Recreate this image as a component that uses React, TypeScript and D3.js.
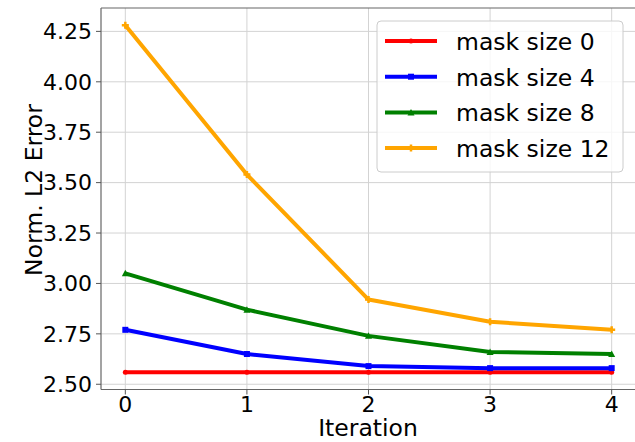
import React from 'react';
import * as d3 from 'd3';

const iterations = [0, 1, 2, 3, 4];
const seriesNames = ['mask size 0', 'mask size 4', 'mask size 8', 'mask size 12'];
const seriesColors = ['#ff0000', '#0000ff', '#008000', '#ffa500'];
const seriesMarkers = ['circle', 'square', 'triangle', 'plus'];
const mask0 = [2.56, 2.56, 2.56, 2.56, 2.56];
const mask4 = [2.77, 2.65, 2.59, 2.58, 2.58];
const mask8 = [3.05, 2.87, 2.74, 2.66, 2.65];
const mask12 = [4.28, 3.54, 2.92, 2.81, 2.77];
const yTicks = [2.5, 2.75, 3.0, 3.25, 3.5, 3.75, 4.0, 4.25];

const width = 635;
const height = 442;
const left = 101;
const right = 636;
const top = 8;
const bottom = 389.5;
const font = 'DejaVu Sans, sans-serif';
const tickSize = 22;
const labelSize = 23.5;

function marker(kind, cx, cy, color) {
	if (kind === 'circle') return <circle cx={cx} cy={cy} r={2.5} fill={color} />;
	if (kind === 'square') return <rect x={cx - 3} y={cy - 3} width={6} height={6} fill={color} />;
	if (kind === 'triangle')
		return <path d={`M${cx},${cy - 3.5}L${cx + 3.5},${cy + 3}L${cx - 3.5},${cy + 3}Z`} fill={color} />;
	return <path d={`M${cx - 3.5},${cy}H${cx + 3.5}M${cx},${cy - 3.5}V${cy + 3.5}`} stroke={color} strokeWidth={2.5} />;
}

export default function App() {
	const series = [mask0, mask4, mask8, mask12];
	const x = d3.scaleLinear().domain([-0.2, 4.2]).range([left, right]);
	const y = d3.scaleLinear().domain([2.474, 4.366]).range([bottom, top]);
	const line = d3
		.line<number>()
		.x((d, i) => x(iterations[i]))
		.y((d) => y(d));

	const legendX = 377;
	const legendY = 21;
	const rowH = 35.7;

	return (
		<svg
			width={width}
			height={height}
			style={{ position: 'absolute', left: 0, top: 0, background: '#fff' }}
			fontFamily={font}
		>
			{/* grid */}
			{iterations.map((t) => (
				<line key={'gx' + t} x1={x(t)} x2={x(t)} y1={top} y2={bottom} stroke="#d3d3d3" strokeWidth={1} />
			))}
			{yTicks.map((t) => (
				<line key={'gy' + t} x1={left} x2={right} y1={y(t)} y2={y(t)} stroke="#d3d3d3" strokeWidth={1} />
			))}

			{/* lines */}
			{series.map((s, k) => (
				<g key={'s' + k}>
					<path d={line(s) || ''} fill="none" stroke={seriesColors[k]} strokeWidth={4} strokeLinejoin="round" />
					{s.map((v, i) => (
						<g key={i}>{marker(seriesMarkers[k], x(iterations[i]), y(v), seriesColors[k])}</g>
					))}
				</g>
			))}

			{/* spines */}
			<line x1={left} x2={right} y1={top} y2={top} stroke="#666" strokeWidth={1.2} />
			<line x1={left} x2={right} y1={bottom} y2={bottom} stroke="#666" strokeWidth={1.2} />
			<line x1={left} x2={left} y1={top} y2={bottom} stroke="#666" strokeWidth={1.2} />

			{/* x ticks */}
			{iterations.map((t) => (
				<g key={'xt' + t}>
					<line x1={x(t)} x2={x(t)} y1={bottom} y2={bottom + 5} stroke="#555" />
					<text x={x(t)} y={bottom + 22.5} textAnchor="middle" fontSize={tickSize} fill="#000">
						{t}
					</text>
				</g>
			))}
			{/* y ticks */}
			{yTicks.map((t) => (
				<g key={'yt' + t}>
					<line x1={left - 5} x2={left} y1={y(t)} y2={y(t)} stroke="#555" />
					<text x={left - 9} y={y(t) + 7.8} textAnchor="end" fontSize={tickSize} fill="#000">
						{t.toFixed(2)}
					</text>
				</g>
			))}

			{/* axis labels */}
			<text x={368} y={436} textAnchor="middle" fontSize={labelSize} fill="#000">
				Iteration
			</text>
			<text
				transform={`translate(42,190) rotate(-90)`}
				textAnchor="middle"
				fontSize={labelSize}
				fill="#000"
			>
				Norm. L2 Error
			</text>

			{/* legend */}
			<rect
				x={legendX}
				y={legendY}
				width={246}
				height={151}
				rx={4}
				fill="#fff"
				fillOpacity={0.8}
				stroke="#ccc"
				strokeWidth={1}
			/>
			{seriesNames.map((name, k) => {
				const cy = legendY + 20 + k * rowH;
				return (
					<g key={'lg' + k}>
						<line x1={385} x2={437} y1={cy} y2={cy} stroke={seriesColors[k]} strokeWidth={4} />
						{marker(seriesMarkers[k], 411, cy, seriesColors[k])}
						<text x={456} y={cy + 9} fontSize={labelSize} fill="#000">
							{name}
						</text>
					</g>
				);
			})}
		</svg>
	);
}
